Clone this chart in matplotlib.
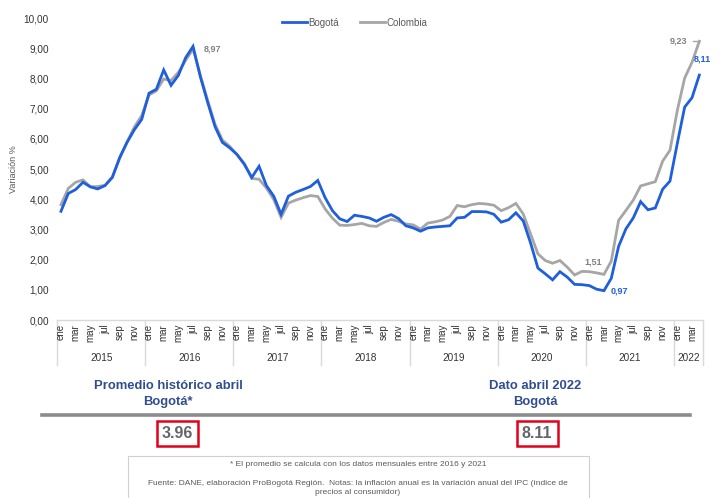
import matplotlib
matplotlib.use('Agg')
import matplotlib.pyplot as plt
from matplotlib.patches import Rectangle
import matplotlib.transforms as mtransforms

W, H = 720, 498
plt.rcParams['font.family'] = ['Liberation Sans', 'DejaVu Sans']
NARROW = ['Liberation Sans Narrow', 'Liberation Sans', 'DejaVu Sans']

# ---------------- data ----------------
years = ['2015', '2016', '2017', '2018', '2019', '2020', '2021', '2022']
months_per_year = [12, 12, 12, 12, 12, 12, 12, 4]
month_names = ['ene', 'feb', 'mar', 'abr', 'may', 'jun', 'jul', 'ago', 'sep', 'oct', 'nov', 'dic']

bogota = [
    3.60, 4.19, 4.32, 4.56, 4.41, 4.34, 4.45, 4.72, 5.38, 5.88, 6.30, 6.64,   # 2015
    7.51, 7.64, 8.28, 7.77, 8.10, 8.69, 9.06, 8.05, 7.20, 6.40, 5.88, 5.70,   # 2016
    5.48, 5.15, 4.72, 5.09, 4.45, 4.10, 3.50, 4.10, 4.23, 4.32, 4.42, 4.62,   # 2017
    4.05, 3.62, 3.35, 3.26, 3.47, 3.43, 3.38, 3.27, 3.40, 3.49, 3.36, 3.12,   # 2018
    3.05, 2.94, 3.05, 3.08, 3.10, 3.12, 3.38, 3.40, 3.59, 3.59, 3.58, 3.50,   # 2019
    3.24, 3.32, 3.55, 3.28, 2.55, 1.72, 1.53, 1.33, 1.60, 1.42, 1.18, 1.17,   # 2020
    1.14, 1.02, 0.97, 1.38, 2.44, 3.02, 3.38, 3.92, 3.65, 3.71, 4.33, 4.60,   # 2021
    5.85, 7.05, 7.36, 8.11,                                                   # 2022
]
colombia = [
    3.82, 4.36, 4.56, 4.64, 4.41, 4.42, 4.46, 4.74, 5.35, 5.89, 6.39, 6.77,
    7.45, 7.59, 7.98, 7.93, 8.20, 8.60, 8.97, 8.10, 7.27, 6.48, 5.96, 5.75,
    5.47, 5.18, 4.69, 4.66, 4.37, 3.99, 3.40, 3.87, 3.97, 4.05, 4.12, 4.09,
    3.68, 3.37, 3.14, 3.13, 3.16, 3.20, 3.12, 3.10, 3.23, 3.33, 3.27, 3.18,
    3.15, 3.01, 3.21, 3.25, 3.31, 3.43, 3.79, 3.75, 3.82, 3.86, 3.84, 3.80,
    3.62, 3.72, 3.86, 3.51, 2.85, 2.19, 1.97, 1.88, 1.97, 1.75, 1.49, 1.61,
    1.60, 1.56, 1.51, 1.95, 3.30, 3.63, 3.97, 4.44, 4.51, 4.58, 5.26, 5.62,
    6.94, 8.01, 8.53, 9.23,
]
y_ticks = [0, 1, 2, 3, 4, 5, 6, 7, 8, 9, 10]
avg_label, avg_value = 'Promedio histórico abril\nBogotá*', '3.96'
last_label, last_value = 'Dato abril 2022\nBogotá', '8.11'

BLUE = '#1F5FDB'
GREY = '#A6A6A6'
TXT = '#595959'
NAVY = '#2F4D8F'

fig = plt.figure(figsize=(W / 100, H / 100), dpi=100)

# axes in pixel geometry
ax_l, ax_r, ax_t, ax_b = 57.3, 703.0, 18.0, 320.0
ax = fig.add_axes([ax_l / W, 1 - ax_b / H, (ax_r - ax_l) / W, (ax_b - ax_t) / H])

x = list(range(len(bogota)))
ax.plot(x, colombia, color=GREY, lw=2.0, solid_joinstyle='miter', zorder=2, label='Colombia')
ax.plot(x, bogota, color=BLUE, lw=2.0, solid_joinstyle='miter', zorder=3, label='Bogotá')

ax.set_xlim(-0.5, len(bogota) - 0.5)
ax.set_ylim(0, 10)
ax.set_yticks(y_ticks)
ax.set_yticklabels([f'{v:.2f}'.replace('.', ',') for v in y_ticks], fontsize=7.2, color='#333333')
ax.tick_params(axis='y', length=0, pad=6)
ax.set_xticks([])
for s in ['top', 'right', 'left']:
    ax.spines[s].set_visible(False)
ax.spines['bottom'].set_color('#D9D9D9')
ax.spines['bottom'].set_linewidth(1.0)
ax.set_ylabel('Variación %', fontsize=6.5, color=TXT, labelpad=4)

# category axis: month labels, year labels, separators
trans = mtransforms.blended_transform_factory(ax.transData, ax.transAxes)
ax_h = ax_b - ax_t
start = 0
bounds = [-0.5]
for yr, n in zip(years, months_per_year):
    for m in range(0, n, 2):
        ax.text(start + m, -4 / ax_h, month_names[m], rotation=90, ha='center', va='top',
                fontsize=7, color='#333333', transform=trans)
    ax.text(start + (n - 1) / 2, -38 / ax_h, yr, ha='center', va='center',
            fontsize=7.2, color='#333333', transform=trans)
    start += n
    bounds.append(start - 0.5)
for b in bounds:
    ax.plot([b, b], [0, -45 / ax_h], color='#D9D9D9', lw=1.0, transform=trans, clip_on=False)

# point annotations
i_peak = colombia.index(max(colombia[:24]))
ax.annotate(f'{colombia[i_peak]:.2f}'.replace('.', ','), (i_peak, colombia[i_peak]),
            xytext=(8, 0), textcoords='offset points', fontsize=6.5, color='#808080',
            va='center', ha='left', fontweight='bold')
last = len(colombia) - 1
ax.annotate(f'{colombia[last]:.2f}'.replace('.', ','), (last, colombia[last]),
            xytext=(-9, 0), textcoords='offset points', fontsize=6.5, color='#808080',
            va='center', ha='right', fontweight='bold')
ax.plot([last - 0.9, last], [colombia[last], colombia[last]], color=GREY, lw=1, clip_on=False)
ax.annotate(f'{bogota[last]:.2f}'.replace('.', ','), (last, bogota[last]),
            xytext=(2, 8), textcoords='offset points', fontsize=6.5, color=BLUE,
            va='bottom', ha='center', fontweight='bold', annotation_clip=False)
i_min_c = 74
ax.annotate(f'{colombia[i_min_c]:.2f}'.replace('.', ','), (i_min_c, colombia[i_min_c]),
            xytext=(-8, 6), textcoords='offset points', fontsize=6.5, color='#808080',
            va='bottom', ha='center', fontweight='bold')
i_min_b = bogota.index(min(bogota))
ax.annotate(f'{bogota[i_min_b]:.2f}'.replace('.', ','), (i_min_b, bogota[i_min_b]),
            xytext=(5, 0), textcoords='offset points', fontsize=6.5, color=BLUE,
            va='center', ha='left', fontweight='bold')

# legend
leg = ax.legend(handles=[ax.lines[1], ax.lines[0]], loc='upper center', bbox_to_anchor=(0.46, 1.03),
                ncol=2, frameon=False, fontsize=7, handlelength=2.6, handletextpad=0.1,
                columnspacing=2.2)
for t in leg.get_texts():
    t.set_color(TXT)

# ---------------- bottom panel ----------------
def fx(px):
    return px / W

def fy(py):
    return 1 - py / H

fig.text(fx(168), fy(394), avg_label, ha='center', va='center', fontsize=9.4,
         fontweight='bold', color=NAVY, family=NARROW, linespacing=1.35)
fig.text(fx(535), fy(394), last_label, ha='center', va='center', fontsize=9.4,
         fontweight='bold', color=NAVY, family=NARROW, linespacing=1.35)
fig.add_artist(plt.Line2D([fx(42), fx(690)], [fy(415), fy(415)], color='#8C8C8C', lw=2.6))

for cx, val in [(177.5, avg_value), (537, last_value)]:
    bw, bh = 41, 25
    fig.add_artist(Rectangle((fx(cx - bw / 2), fy(446)), bw / W, bh / H, fill=False,
                             edgecolor='#E3001B', lw=1.8))
    fig.text(fx(cx), fy(433.5), val, ha='center', va='center', fontsize=11.5,
             fontweight='bold', color='#666666', family=NARROW)

fig.add_artist(Rectangle((fx(128), fy(505)), (589 - 128) / W, (505 - 456) / H, fill=False,
                         edgecolor='#D0D0D0', lw=0.8))
fig.text(fx(358), fy(465), '* El promedio se calcula con los datos mensuales entre 2016 y 2021',
         ha='center', va='center', fontsize=6.0, color=TXT, family=NARROW)
fig.text(fx(358), fy(483), 'Fuente: DANE, elaboración ProBogotá Región.  Notas: la inflación anual es la variación anual del IPC (índice de',
         ha='center', va='center', fontsize=6.0, color=TXT, family=NARROW)
fig.text(fx(358), fy(492.8), 'precios al consumidor)',
         ha='center', va='center', fontsize=6.0, color=TXT, family=NARROW)

fig.savefig('out.png', dpi=100)
